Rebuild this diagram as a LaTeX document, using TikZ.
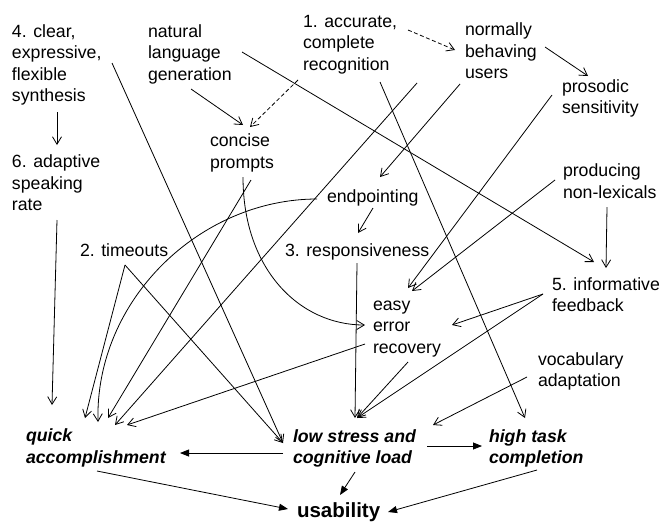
\documentclass[tikz,border=0pt]{standalone}
\usepackage{fontspec}
\setmainfont{Liberation Sans}
\usetikzlibrary{arrows.meta}
\newcommand\mylines[1]{\begin{tabular}[t]{@{}l@{}}#1\end{tabular}}
\begin{document}
\begin{tikzpicture}[x=1pt,y=-1pt,
  lbl/.style={anchor=base west, inner sep=0pt, outer sep=0pt, font=\fontsize{17.7}{21.5}\selectfont},
  goal/.style={lbl, font=\fontsize{17.7}{21.5}\selectfont\bfseries\itshape},
  top/.style={lbl, font=\fontsize{20.5}{24}\selectfont\bfseries},
  conn/.style={line width=0.8pt, -{Straight Barb[length=7.5pt,width=9pt]}},
  dconn/.style={conn, dash pattern=on 4pt off 2.5pt},
  fconn/.style={line width=0.8pt, -{Triangle[length=9pt,width=7pt]}}]
\fill[white] (0,0) rectangle (660,523);
\useasboundingbox (0,0) rectangle (660,523);
% nodes
\node[lbl] (n4) at (12,37) {\mylines{4. clear,\\expressive,\\flexible\\synthesis}};
\node[lbl] (nlg) at (148,37) {\mylines{natural\\language\\generation}};
\node[lbl] (n1) at (303,27) {\mylines{1. accurate,\\complete\\recognition}};
\node[lbl] (nbu) at (465,35.5) {\mylines{normally\\behaving\\users}};
\node[lbl] (nps) at (562,92) {\mylines{prosodic\\sensitivity}};
\node[lbl] (ncp) at (210,146.5) {\mylines{concise\\prompts}};
\node[lbl] (n6) at (12,167.5) {\mylines{6. adaptive\\speaking\\rate}};
\node[lbl] (nend) at (327,202) {endpointing};
\node[lbl] (npn) at (563,176.5) {\mylines{producing\\non-lexicals}};
\node[lbl] (nto) at (80,256) {2. timeouts};
\node[lbl] (nresp) at (285,256) {3. responsiveness};
\node[lbl] (nif) at (552,290) {\mylines{5. informative\\feedback}};
\node[lbl] (neer) at (373,310) {\mylines{easy\\error\\recovery}};
\node[lbl] (nva) at (538,365) {\mylines{vocabulary\\adaptation}};
\node[goal] (nqa) at (26,441.5) {\mylines{quick\\accomplishment}};
\node[goal] (nls) at (293,442) {\mylines{low stress and\\cognitive load}};
\node[goal] (nht) at (489,442) {\mylines{high task\\completion}};
\node[top] (nus) at (297,517) {usability};
% connectors
\draw[conn] ([shift={(45,75)}]n4.base west) -- ([shift={(45,-22.5)}]n6.base west);
\draw[conn] ([shift={(100,26)}]n4.base west) -- ([shift={(-10,1)}]nls.base west);
\draw[conn] ([shift={(43,52)}]nlg.base west) -- ([shift={(33,-21.5)}]ncp.base west);
\draw[dconn] ([shift={(-5,53)}]n1.base west) -- ([shift={(40,-19.5)}]ncp.base west);
\draw[dconn] ([shift={(105,3)}]n1.base west) -- ([shift={(-10,14.5)}]nbu.base west);
\draw[conn] ([shift={(94,15)}]nlg.base west) -- ([shift={(42,-28)}]nif.base west);
\draw[conn] ([shift={(80,11.5)}]nbu.base west) -- ([shift={(26,-16)}]nps.base west);
\draw[conn] ([shift={(77,55)}]n1.base west) -- ([shift={(36,-24)}]nht.base west);
\draw[conn] ([shift={(114,56)}]n1.base west) -- ([shift={(89,-16.5)}]nqa.base west);
\draw[conn] ([shift={(45,52.5)}]n6.base west) -- ([shift={(26,-36.5)}]nqa.base west);
\draw[conn] ([shift={(45,9)}]nto.base west) -- ([shift={(59,-23.5)}]nqa.base west);
\draw[conn] ([shift={(45,9)}]nto.base west) -- ([shift={(-10,1)}]nls.base west);
\draw[conn] ([shift={(-10,-3)}]nend.base west) .. controls +(-117,0) and +(-3,-122) .. ([shift={(72,-19.5)}]nqa.base west);
\draw[conn] ([shift={(33,30.5)}]ncp.base west) .. controls +(0,93) and +(-65,0) .. ([shift={(-8,15)}]neer.base west);
\draw[conn] ([shift={(41,33.5)}]ncp.base west) -- ([shift={(82,-23.5)}]nqa.base west);
\draw[conn] ([shift={(-8,34)}]neer.base west) -- ([shift={(101,-16.5)}]nqa.base west);
\draw[conn] ([shift={(-5,48.5)}]nbu.base west) -- ([shift={(53,-25)}]nend.base west);
\draw[conn] ([shift={(46,6)}]nend.base west) -- ([shift={(73,-23)}]nresp.base west);
\draw[conn] ([shift={(72,7)}]nresp.base west) -- ([shift={(62,-24)}]nls.base west);
\draw[conn] ([shift={(35,52)}]neer.base west) -- ([shift={(64,-24)}]nls.base west);
\draw[conn] ([shift={(-9,4)}]nif.base west) -- ([shift={(79,15)}]neer.base west);
\draw[conn] ([shift={(-9,4)}]nif.base west) -- ([shift={(64,-24)}]nls.base west);
\draw[conn] ([shift={(-10,3)}]nps.base west) -- ([shift={(35,-22)}]neer.base west);
\draw[conn] ([shift={(-8,3.5)}]npn.base west) -- ([shift={(39,-19)}]neer.base west);
\draw[conn] ([shift={(44,30.5)}]npn.base west) -- ([shift={(54,-22)}]nif.base west);
\draw[conn] ([shift={(-11,12)}]nva.base west) -- ([shift={(140,-17)}]nls.base west);
\draw[fconn] ([shift={(-10,11)}]nls.base west) -- ([shift={(154,11.5)}]nqa.base west);
\draw[fconn] ([shift={(134,4)}]nls.base west) -- ([shift={(-7,4)}]nht.base west);
\draw[fconn] ([shift={(62,30)}]nls.base west) -- ([shift={(43,-22)}]nus.base west);
\draw[fconn] ([shift={(71,29.5)}]nqa.base west) -- ([shift={(-9,-8)}]nus.base west);
\draw[fconn] ([shift={(48,28)}]nht.base west) -- ([shift={(91,-5)}]nus.base west);
\end{tikzpicture}
\end{document}
